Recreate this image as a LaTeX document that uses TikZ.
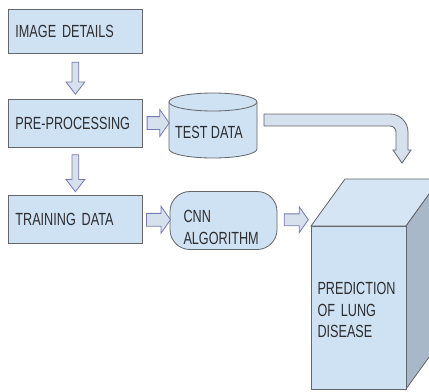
\documentclass[tikz,border=0pt]{standalone}
\usepackage{fontspec}
\setmainfont[FakeStretch=0.72]{Liberation Sans}
\usetikzlibrary{shapes.arrows,calc}

\definecolor{boxblue}{RGB}{207,226,243}
\definecolor{topblue}{RGB}{214,229,243}
\definecolor{sideblue}{RGB}{168,184,201}
\definecolor{edgegray}{RGB}{100,102,106}
\definecolor{textgray}{RGB}{45,45,48}
\definecolor{arrowfill}{RGB}{214,225,237}
\definecolor{arrowedge}{RGB}{118,122,178}

\tikzset{
    boxtext/.style={text=textgray, font=\fontsize{15}{18.5}\selectfont},
    box/.style={boxtext, draw=edgegray, fill=boxblue, anchor=west, text width=3.6cm, inner xsep=0.21cm, align=left},
    downarrow/.style={single arrow, shape border rotate=270, draw=arrowedge, fill=arrowfill, inner sep=0.09cm, single arrow head extend=0.18cm, single arrow tip angle=75, minimum height=0.96cm},
    rightarrow/.style={single arrow, draw=arrowedge, fill=arrowfill, inner sep=0.18cm, single arrow head extend=0.21cm, single arrow tip angle=110, minimum height=0.66cm}
}

\begin{document}
\begin{tikzpicture}[x=0.03cm, y=-0.03cm, line width=0.7pt]
    \clip (0,0) rectangle (429,391);
    % Left column of boxes
    \node[box, minimum height=1.32cm] (img) at (8,31) {IMAGE DETAILS};
    \node[box, minimum height=1.44cm] (pre) at (8,123) {PRE-PROCESSING};
    \node[box, minimum height=1.44cm] (train) at (8,219) {TRAINING DATA};

    % Test data cylinder
    \filldraw[draw=edgegray, fill=boxblue] (169,102) -- (169,149) .. controls (169,154) and (188.7,158) .. (213,158) .. controls (237.3,158) and (257,154) .. (257,149) -- (257,102);
    \filldraw[draw=edgegray, fill=boxblue] (213,102) ellipse [x radius=44, y radius=9];
    \node[boxtext] (test) at (209,132) {TEST DATA};
    \coordinate (testleft) at (169,123);

    % CNN block
    \node[draw=edgegray, fill=boxblue, rounded corners=17pt, minimum width=3.21cm, minimum height=1.74cm] (cnn) at (223.5,220.5) {};
    \node[boxtext, text width=2.4cm, align=left] (cnntext) at ([yshift=-6pt]cnn.center) {CNN\\ALGORITHM};

    % Prediction cube
    \filldraw[draw=edgegray, fill=topblue] (311,226) -- (345,179) -- (440,179) -- (406,226) -- cycle;
    \filldraw[draw=edgegray, fill=sideblue] (406,226) -- (440,179) -- (440,342) -- (406,389) -- cycle;
    \filldraw[draw=edgegray, fill=boxblue] (311,226) rectangle (406,389);
    \node[boxtext, text width=2.46cm, align=left] (pred) at (358.5,310) {PREDICTION\\OF LUNG\\DISEASE};
    \coordinate (cubeleft) at (311,219);

    % Block arrows
    \node[downarrow] (a1) at ($(img.south)!0.5!(pre.north)$) {};
    \node[downarrow, minimum height=1.11cm] (a2) at ($(pre.south)!0.5!(train.north)$) {};
    \node[rightarrow] (a3) at ($(pre.east)!0.5!(testleft)$) {};
    \node[rightarrow, minimum height=0.72cm] (a4) at ($(train.east)!0.5!(cnn.west)$) {};
    \node[rightarrow, minimum height=0.72cm, inner sep=0.165cm] (a5) at ($(cnn.east)!0.5!(cubeleft)$) {};

    % Bent arrow from test data down to the cube
    \filldraw[draw=edgegray, fill=arrowfill] (264,114) -- (390,114) .. controls (399.9,114) and (408,122.1) .. (408,132) -- (408,150) -- (411,150) -- (402,163) -- (393,150) -- (396,150) -- (396,132) .. controls (396,128.7) and (393.3,126) .. (390,126) -- (264,126) -- cycle;
\end{tikzpicture}
\end{document}
